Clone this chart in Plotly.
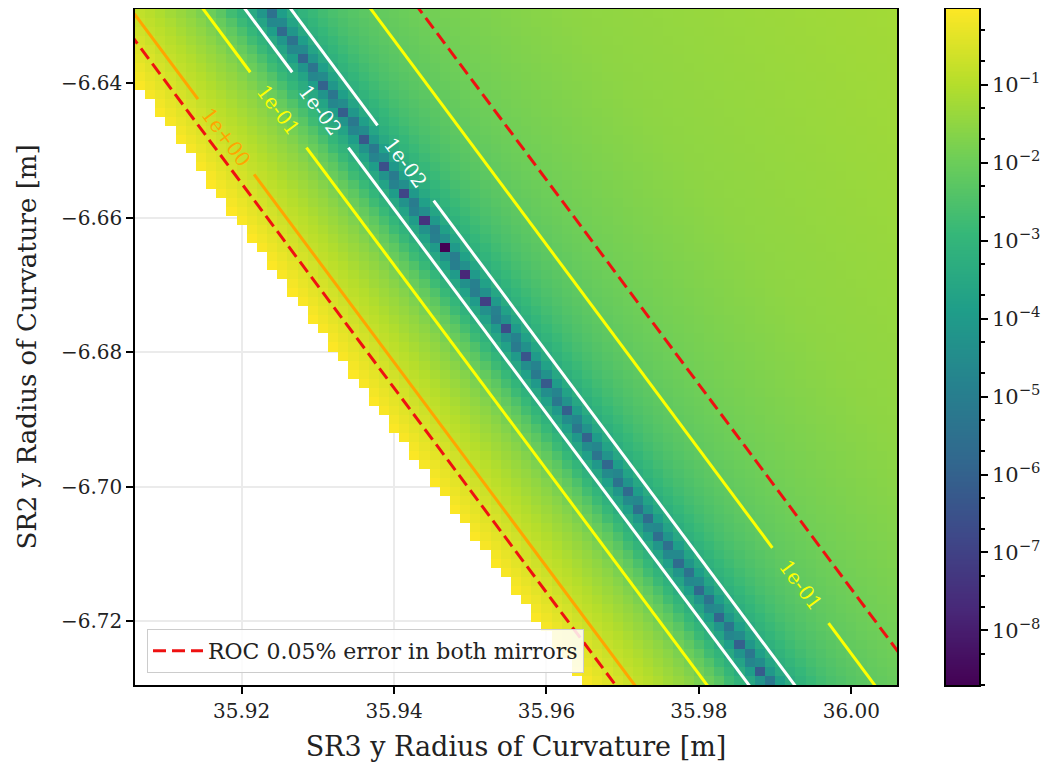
import numpy as np
import plotly.graph_objects as go

# ---------------- data ----------------
X_RANGE = [35.906, 36.006]          # SR3 y radius of curvature [m]
Y_RANGE = [-6.7295, -6.6290]        # SR2 y radius of curvature [m]
N_CELLS_X = 75
N_CELLS_Y = 75

# optimum (valley) line of the error map
valley_point = [35.94667, -6.66451]
valley_slope = -1.52                # dy/dx of all the parallel lines

# profile across the valley: horizontal offset from the valley [m] -> value
profile_offset = [-0.0245, -0.0230, -0.0215, -0.0197, -0.0178, -0.0130, -0.0084, -0.0050,
                  -0.0029, 0.0, 0.0031, 0.0080, 0.0136, 0.0202, 0.0400, 0.0800, 0.1200]
profile_value = [0.93, 0.62, 0.42, 0.28, 0.17, 0.055, 0.013, 0.0018,
                 0.0005, 0.0, 0.0005, 0.0026, 0.0065, 0.012, 0.030, 0.055, 0.062]
mask_offset = -0.0245               # cells further to the lower-left are blank

cbar_min = 2.0e-9
cbar_max = 0.93
cbar_tick_exps = [-8, -7, -6, -5, -4, -3, -2, -1]

# contour lines (x position where each line crosses y = REF_Y)
REF_Y = -6.68
contour_labels = ["1e-02", "1e-02", "1e-01", "1e-01", "1e+00"]
contour_x_at_ref = [35.9540, 35.9600, 35.9485, 35.9705, 35.9390]
contour_label_y = [-6.6440, -6.6519, -6.6440, -6.7147, -6.6480]
contour_colors = ["#ffffff", "#ffffff", "#ffff00", "#ffff00", "#ffa500"]

# ROC 0.05% error in both mirrors
R3_nominal = 35.956
R2_nominal = -6.679
roc_error = 0.0005

x_ticks = [35.92, 35.94, 35.96, 35.98, 36.00]
y_ticks = [-6.72, -6.70, -6.68, -6.66, -6.64]

# ---------------- build the map ----------------
dx = (X_RANGE[1] - X_RANGE[0]) / N_CELLS_X
dy = (Y_RANGE[1] - Y_RANGE[0]) / N_CELLS_Y
xc = X_RANGE[0] + (np.arange(N_CELLS_X) + 0.5) * dx
yc = Y_RANGE[0] + (np.arange(N_CELLS_Y) + 0.5) * dy
XX, YY = np.meshgrid(xc, yc)
x_valley = valley_point[0] + (YY - valley_point[1]) / valley_slope
U = XX - x_valley
sq = np.sign(profile_offset) * np.sqrt(profile_value)
G = np.interp(U, profile_offset, sq)
V = np.maximum(G ** 2, cbar_min)
Z = np.log10(V)
Z[U < mask_offset] = np.nan

zmin, zmax = np.log10(cbar_min), np.log10(cbar_max)

fig = go.Figure()
fig.add_trace(go.Heatmap(x=xc, y=yc, z=Z, colorscale="Viridis", zmin=zmin, zmax=zmax,
                         showscale=False, hoverinfo="skip", xaxis="x", yaxis="y"))

# page layout (the browser page adds an 8 px body margin)
FIG_W, FIG_H = 1046, 754
M_L, M_T, M_B = 127, 1, 77
PLOT_W = 762
CB_L, CB_R = 811, 844               # colour bar position inside the paper area
M_R = FIG_W - M_L - CB_R
paper_w = FIG_W - M_L - M_R
PLOT_H = FIG_H - M_T - M_B

px_x = PLOT_W / (X_RANGE[1] - X_RANGE[0])
px_y = PLOT_H / (Y_RANGE[1] - Y_RANGE[0])
screen_angle = float(np.degrees(np.arctan(abs(valley_slope) * px_y / px_x)))


def line_x(x_ref, y_ref, y):
    return x_ref + (y - y_ref) / valley_slope


y_lo, y_hi = Y_RANGE[0] - 0.01, Y_RANGE[1] + 0.01
half_gap = 0.0056
for lab, xr, ly, col in zip(contour_labels, contour_x_at_ref, contour_label_y, contour_colors):
    ys = [y_hi, ly + half_gap, None, ly - half_gap, y_lo]
    xs = [line_x(xr, REF_Y, y) if y is not None else None for y in ys]
    fig.add_trace(go.Scatter(x=xs, y=ys, mode="lines", line=dict(color=col, width=3),
                             showlegend=False, hoverinfo="skip"))
    fig.add_annotation(x=line_x(xr, REF_Y, ly), y=ly, text=lab, showarrow=False,
                       textangle=screen_angle, font=dict(color=col, size=20, family="DejaVu Serif"),
                       xref="x", yref="y")

roc_pts = [(R3_nominal * (1 - roc_error), R2_nominal * (1 + roc_error)),
           (R3_nominal * (1 + roc_error), R2_nominal * (1 - roc_error))]
rx, ry = [], []
for (px0, py0) in roc_pts:
    rx += [line_x(px0, py0, y_hi), line_x(px0, py0, y_lo), None]
    ry += [y_hi, y_lo, None]
fig.add_trace(go.Scatter(x=rx, y=ry, mode="lines", name="ROC 0.05% error in both mirrors",
                         line=dict(color="#ee1111", width=3, dash="13px,6px"),
                         hoverinfo="skip", showlegend=True))

# colorbar drawn as its own log axis
cb_exp = np.linspace(zmin, zmax, 400)
fig.add_trace(go.Heatmap(x=[0, 1], y=10 ** cb_exp, z=np.column_stack([cb_exp, cb_exp]),
                         colorscale="Viridis", zmin=zmin, zmax=zmax, showscale=False,
                         hoverinfo="skip", xaxis="x2", yaxis="y2"))

axis_font = dict(family="DejaVu Serif", size=20, color="#222222")
fig.update_layout(
    width=FIG_W, height=FIG_H,
    margin=dict(l=M_L, r=M_R, t=M_T, b=M_B, autoexpand=False),
    paper_bgcolor="white", plot_bgcolor="white",
    font=dict(family="DejaVu Serif", size=20, color="#222222"),
    xaxis=dict(domain=[0, PLOT_W / paper_w], range=X_RANGE, tickvals=x_ticks, tickformat=".2f",
               ticks="outside", ticklen=7, tickwidth=1.5, tickcolor="black",
               showline=True, mirror=True, linecolor="black", linewidth=1.5,
               showgrid=True, gridcolor="#ebebeb", gridwidth=1.5, zeroline=False,
               tickfont=axis_font, automargin=False,
               title=dict(text="SR3 y Radius of Curvature [m]", font=dict(size=27, family="DejaVu Serif", color="#222222"), standoff=16)),
    yaxis=dict(domain=[0, 1], range=Y_RANGE, tickvals=y_ticks, tickformat=".2f",
               ticks="outside", ticklen=7, tickwidth=1.5, tickcolor="black",
               showline=True, mirror=True, linecolor="black", linewidth=1.5,
               showgrid=True, gridcolor="#ebebeb", gridwidth=1.5, zeroline=False,
               tickfont=axis_font, automargin=False,
               title=dict(text="SR2 y Radius of Curvature [m]", font=dict(size=26, family="DejaVu Serif", color="#222222"), standoff=17)),
    xaxis2=dict(domain=[CB_L / paper_w, CB_R / paper_w], range=[-0.5, 1.5],
                showticklabels=False, ticks="", showgrid=False, zeroline=False, automargin=False,
                showline=True, mirror=True, linecolor="black", linewidth=1.5, anchor="y2"),
    yaxis2=dict(domain=[0, 1], type="log", range=[zmin, zmax], anchor="x2", side="right",
                tickvals=[10.0 ** e for e in cbar_tick_exps],
                ticktext=["10<sup>\u2212%d</sup>" % (-e) for e in cbar_tick_exps],
                ticks="outside", ticklen=7, tickwidth=1.5, tickcolor="black",
                minor=dict(ticks="outside", ticklen=4, tickcolor="black", showgrid=False),
                showgrid=False, zeroline=False, showline=True, mirror=True, automargin=False,
                linecolor="black", linewidth=1.5, tickfont=dict(family="DejaVu Serif", size=21, color="#222222")),
    legend=dict(x=12 / paper_w, y=12 / PLOT_H, xanchor="left", yanchor="bottom",
                bgcolor="rgba(255,255,255,0.85)", bordercolor="#cccccc", borderwidth=1,
                itemwidth=50,
                font=dict(family="DejaVu Serif", size=22, color="#222222")),
)

fig.write_html("out.html")
